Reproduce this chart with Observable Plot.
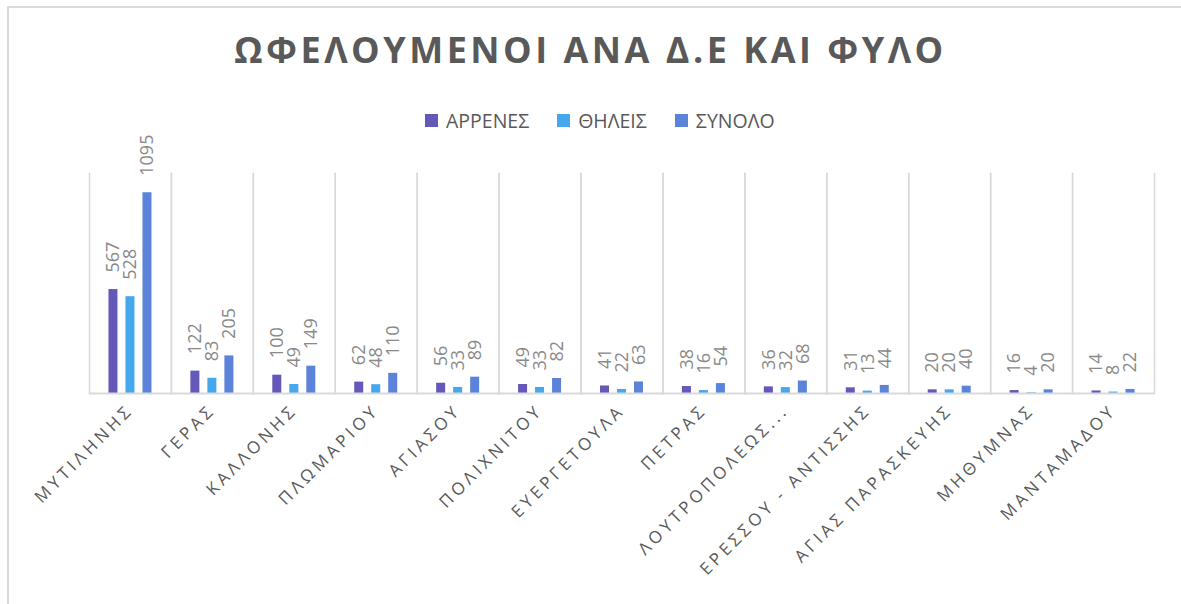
<!DOCTYPE html>
<html><head><meta charset="utf-8">
<script src="https://cdn.jsdelivr.net/npm/d3@7"></script>
<script src="https://cdn.jsdelivr.net/npm/@observablehq/plot@0.6"></script>
<style>
body{margin:0;background:#fff;overflow:hidden;font-family:"Open Sans",sans-serif}
#wrap{position:relative;width:1181px;height:604px;overflow:hidden;background:#fff}
#border{position:absolute;left:7px;top:6px;width:1300px;height:800px;border-left:2px solid #d9d9d9;border-top:2px solid #d9d9d9}
#title{position:absolute;left:0;top:25px;width:1181px;text-align:center;font-weight:700;font-size:36px;letter-spacing:3.5px;color:#595959;white-space:nowrap}
#legend{position:absolute;left:425px;top:107px;display:flex;font-size:19.5px;color:#595959;white-space:nowrap}
.item{display:flex;align-items:center;margin-right:28px}
.sw{width:13px;height:13px;margin-right:8px}
#chart{position:absolute;left:0;top:125px}
#chart g[aria-label="fx-axis tick label"] text{letter-spacing:3.8px}
</style>
</head><body>
<div id="wrap">
<div id="border"></div>
<div id="title">ΩΦΕΛΟΥΜΕΝΟΙ ΑΝΑ Δ.Ε ΚΑΙ ΦΥΛΟ</div>
<div id="legend"></div>
<div id="chart"></div>
</div>
<script>
const categories = ["ΜΥΤΙΛΗΝΗΣ","ΓΕΡΑΣ","ΚΑΛΛΟΝΗΣ","ΠΛΩΜΑΡΙΟΥ","ΑΓΙΑΣΟΥ","ΠΟΛΙΧΝΙΤΟΥ","ΕΥΕΡΓΕΤΟΥΛΑ","ΠΕΤΡΑΣ","ΛΟΥΤΡΟΠΟΛΕΩΣ...","ΕΡΕΣΣΟΥ - ΑΝΤΙΣΣΗΣ","ΑΓΙΑΣ ΠΑΡΑΣΚΕΥΗΣ","ΜΗΘΥΜΝΑΣ","ΜΑΝΤΑΜΑΔΟΥ"];
const series = ["ΑΡΡΕΝΕΣ","ΘΗΛΕΙΣ","ΣΥΝΟΛΟ"];
const males   = [567,122,100,62,56,49,41,38,36,31,20,16,14];
const females = [528,83,49,48,33,33,22,16,32,13,20,4,8];
const totals  = [1095,205,149,110,89,82,63,54,68,44,40,20,22];
const colors = ["#6459b8","#45a7ec","#5b83da"];

const valuesBySeries = [males, females, totals];
const rows = [];
categories.forEach((c, i) => series.forEach((s, j) => rows.push({cat: c, series: s, value: valuesBySeries[j][i]})));

// legend
const leg = document.getElementById("legend");
series.forEach((s, j) => {
  const it = document.createElement("div"); it.className = "item";
  const sw = document.createElement("div"); sw.className = "sw"; sw.style.background = colors[j];
  const t = document.createElement("span"); t.textContent = s;
  it.appendChild(sw); it.appendChild(t); leg.appendChild(it);
});

const chart = Plot.plot({
  width: 1181, height: 479,
  marginLeft: 89, marginRight: 27, marginTop: 48, marginBottom: 211,
  fx: {domain: categories, padding: 0, round: false, label: null, tickRotate: -45, tickSize: 0, tickPadding: 14},
  x: {domain: series, axis: null, round: false, paddingInner: 0.47, paddingOuter: 1.144},
  y: {domain: [0, 1200], axis: null},
  color: {domain: series, range: colors},
  style: {fontFamily: "Open Sans", fontSize: "17px", color: "#595959", background: "transparent", overflow: "visible"},
  marks: [
    Plot.frame({anchor: "left", stroke: "#d9d9d9", strokeWidth: 1.5}),
    Plot.frame({anchor: "right", stroke: "#d9d9d9", strokeWidth: 1.5}),
    Plot.barY(rows, {fx: "cat", x: "series", y: "value", fill: "series"}),
    Plot.text(rows, {fx: "cat", x: "series", y: "value", text: d => String(d.value), rotate: -90, textAnchor: "start", dy: -17, fontSize: 18, fill: "#898989"}),
    Plot.ruleY([0], {stroke: "#d9d9d9", strokeWidth: 2})
  ]
});
document.getElementById("chart").appendChild(chart);
</script>
</body></html>
